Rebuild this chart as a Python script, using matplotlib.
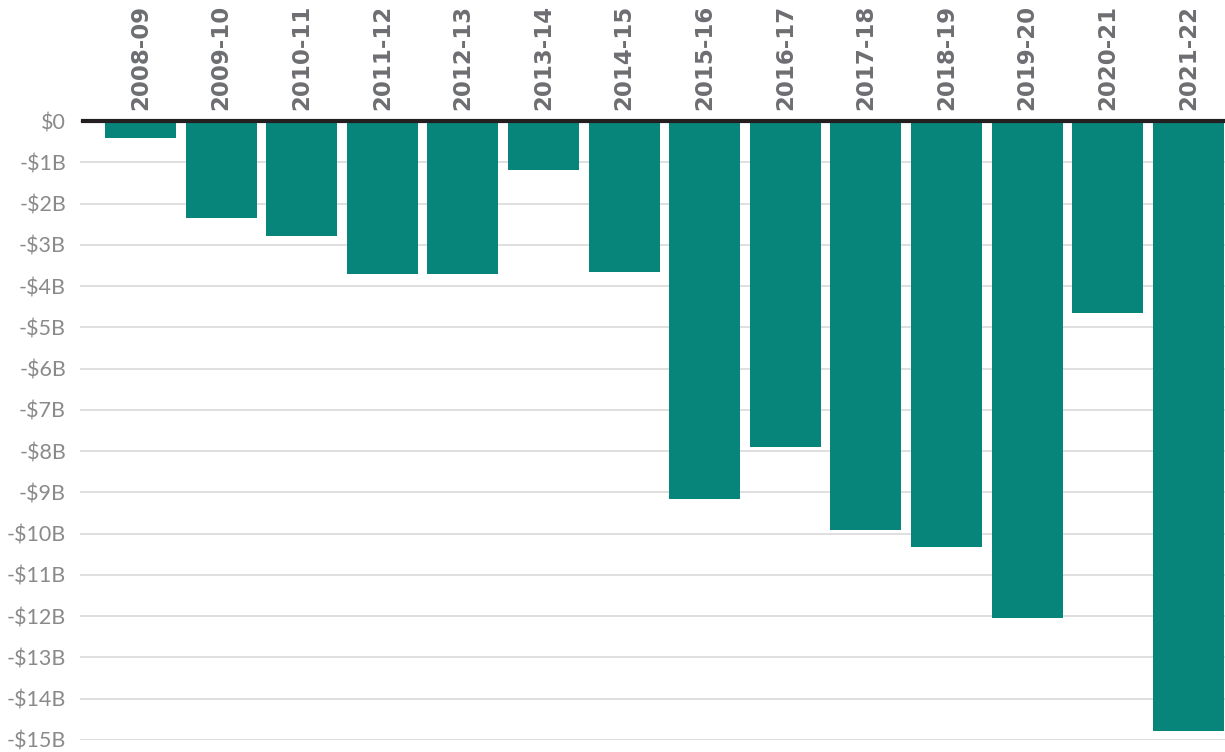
import matplotlib.pyplot as plt
import numpy as np

years = ["2008-09", "2009-10", "2010-11", "2011-12", "2012-13", "2013-14", "2014-15",
         "2015-16", "2016-17", "2017-18", "2018-19", "2019-20", "2020-21", "2021-22"]
balance = [-0.41, -2.35, -2.79, -3.71, -3.71, -1.19, -3.66,
           -9.16, -7.90, -9.91, -10.32, -12.04, -4.65, -14.78]
yticks = list(range(0, -16, -1))

bar_color = "#07857a"
text_gray = "#8a8a8a"
label_gray = "#6d6e71"

plt.rcParams['font.family'] = ['Lato', 'DejaVu Sans']

fig = plt.figure(figsize=(12.25, 7.52), dpi=100)
ax = fig.add_axes([80 / 1225, 12 / 752, 1 - 80 / 1225, 619 / 752])

x = np.arange(len(years))
ax.bar(x, balance, width=0.88, color=bar_color, zorder=2)

ax.set_ylim(-15, 0)
ax.set_xlim(-0.75, len(years) - 1 + 0.455)
ax.set_yticks(yticks)
ax.set_yticklabels(["$0" if v == 0 else f"-${-v}B" for v in yticks])
ax.tick_params(axis='y', length=0, pad=10, labelsize=15.5, labelcolor=text_gray)
ax.tick_params(axis='x', length=0, labelbottom=False)
ax.grid(axis='y', color="#d9d9d9", linewidth=1.2, zorder=0)
ax.set_axisbelow(True)
for s in ax.spines.values():
    s.set_visible(False)

# heavy zero baseline
ax.axhline(0, xmin=3 / 1145, color="#231f20", linewidth=3, zorder=3, clip_on=False)

for xi, yr in zip(x, years):
    ax.text(xi, 0.27, yr, rotation=90, ha='center', va='bottom',
            fontsize=16.5, fontweight='bold', color=label_gray,
            family='DejaVu Sans')

fig.savefig("out.png", dpi=100)
